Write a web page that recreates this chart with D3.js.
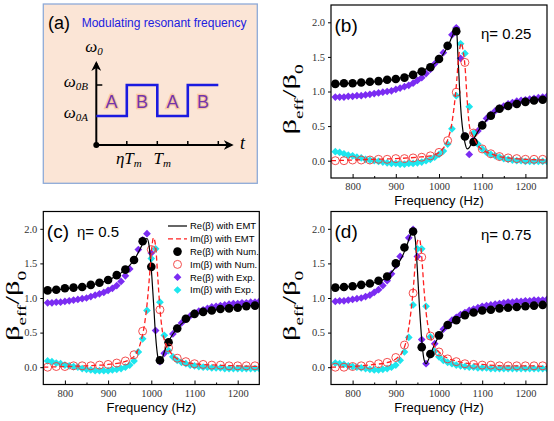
<!DOCTYPE html>
<meta charset="utf-8">
<style>
body { margin: 0; background: #fff; }
svg { display: block; }
.tick text { font-family: "Liberation Serif", serif; font-size: 10.5px; fill: #333; }
.tick line { stroke: #000; stroke-width: 1; }
</style>
<script src="https://d3js.org/d3.v7.min.js"></script>
<body>
<svg id="chart" width="554" height="421"></svg>
<script>

// ---- data ----
var freqNum = [760, 780, 800, 820, 840, 860, 880, 900, 920, 940, 960, 980, 1000,
  1020, 1040, 1060, 1080, 1100, 1120, 1140, 1160, 1180, 1200, 1220, 1240];
var freqExp = [760, 770, 780, 790, 800, 810, 820, 830, 840, 850, 860, 870, 880, 890,
  900, 910, 920, 930, 940, 950, 960, 970, 980, 990, 1000, 1010, 1020, 1030, 1040,
  1050, 1060, 1070, 1080, 1090, 1100, 1110, 1120, 1130, 1140, 1150, 1160, 1170,
  1180, 1190, 1200, 1210, 1220, 1230, 1240, 1250];
var xTicks = [800, 900, 1000, 1100, 1200];
var xMinor = [850, 950, 1050, 1150];
var yTicks = [0, 0.5, 1.0, 1.5, 2.0];

// (b) eta = 0.25
var emtFreqB = [750, 800, 850, 900, 950, 980, 1000, 1010, 1020, 1030, 1035, 1038, 1041,
  1044, 1048, 1052, 1056, 1060, 1065, 1070, 1075, 1080, 1090, 1100, 1120, 1140, 1160, 1200, 1250];
var emtReB = [1.10, 1.12, 1.14, 1.18, 1.27, 1.36, 1.46, 1.54, 1.65, 1.79, 1.86, 1.89, 1.86,
  1.50, 1.00, 0.62, 0.40, 0.26, 0.17, 0.19, 0.25, 0.31, 0.42, 0.51, 0.65, 0.74, 0.80, 0.86, 0.90];
var emtImB = [0.00, 0.01, 0.02, 0.03, 0.05, 0.07, 0.12, 0.18, 0.30, 0.55, 0.78, 0.95, 1.15,
  1.40, 1.62, 1.70, 1.58, 1.38, 0.90, 0.52, 0.40, 0.34, 0.22, 0.16, 0.10, 0.06, 0.04, 0.02, 0.01];
var numReB = [1.11, 1.12, 1.12, 1.13, 1.14, 1.15, 1.17, 1.18, 1.20, 1.24, 1.29, 1.35, 1.47,
  1.66, 1.87, 0.35, 0.27, 0.51, 0.65, 0.75, 0.79, 0.82, 0.85, 0.87, 0.88];
var numImB = [0.00, 0.00, 0.01, 0.01, 0.01, 0.02, 0.02, 0.03, 0.03, 0.04, 0.05, 0.07, 0.12,
  0.29, 0.99, 1.42, 0.40, 0.17, 0.10, 0.06, 0.04, 0.03, 0.02, 0.02, 0.02];
var expReB = [0.92, 0.92, 0.92, 0.93, 0.93, 0.94, 0.94, 0.95, 0.96, 0.97, 0.98, 0.99, 1.00, 1.01,
  1.03, 1.05, 1.07, 1.09, 1.12, 1.16, 1.20, 1.26, 1.32, 1.40, 1.48, 1.56, 1.66, 1.82, 1.92,
  1.48, 0.36, 0.09, 0.30, 0.43, 0.53, 0.61, 0.67, 0.72, 0.76, 0.79, 0.82, 0.84,
  0.86, 0.87, 0.88, 0.89, 0.90, 0.91, 0.92, 0.93];
var expImB = [0.13, 0.12, 0.10, 0.08, 0.07, 0.05, 0.04, 0.02, 0.01, 0.00, -0.01, -0.02, -0.03, -0.04,
  -0.04, -0.05, -0.05, -0.04, -0.04, -0.03, -0.02, 0.00, 0.02, 0.05, 0.09, 0.14, 0.24, 0.46, 0.94,
  1.69, 1.55, 0.78, 0.40, 0.24, 0.17, 0.12, 0.09, 0.07, 0.05, 0.03, 0.02, 0.01,
  0.00, 0.00, -0.01, -0.01, -0.01, -0.01, -0.01, -0.01];

// (c) eta = 0.5
var emtFreqC = [750, 800, 850, 900, 925, 950, 965, 975, 985, 990, 995, 1000, 1005, 1010,
  1015, 1020, 1025, 1030, 1040, 1050, 1060, 1080, 1100, 1150, 1200, 1250];
var emtReC = [1.10, 1.13, 1.17, 1.26, 1.34, 1.47, 1.60, 1.72, 1.84, 1.86, 1.75, 1.42, 0.95, 0.45,
  0.15, 0.06, 0.12, 0.22, 0.37, 0.48, 0.56, 0.68, 0.76, 0.83, 0.87, 0.90];
var emtImC = [0.00, 0.01, 0.02, 0.04, 0.06, 0.11, 0.20, 0.35, 0.65, 0.90, 1.25, 1.65, 1.87, 1.75,
  1.30, 0.85, 0.55, 0.40, 0.26, 0.17, 0.12, 0.07, 0.05, 0.03, 0.02, 0.01];
var numReC = [1.11, 1.12, 1.14, 1.15, 1.16, 1.19, 1.22, 1.26, 1.33, 1.41, 1.55, 1.82, 1.45,
  0.10, 0.36, 0.56, 0.70, 0.77, 0.80, 0.82, 0.84, 0.85, 0.86, 0.88, 0.89];
var numImC = [0.00, 0.01, 0.01, 0.02, 0.02, 0.02, 0.03, 0.04, 0.06, 0.09, 0.18, 0.52, 1.70,
  0.83, 0.28, 0.13, 0.08, 0.05, 0.04, 0.03, 0.03, 0.02, 0.02, 0.02, 0.02];
var expReC = [0.93, 0.93, 0.94, 0.94, 0.95, 0.96, 0.97, 0.98, 0.99, 1.00, 1.02, 1.04, 1.06, 1.08,
  1.11, 1.14, 1.18, 1.24, 1.32, 1.42, 1.55, 1.70, 1.84, 1.93, 1.65, 0.53, 0.08, 0.20, 0.36,
  0.48, 0.57, 0.64, 0.70, 0.74, 0.78, 0.81, 0.83, 0.85, 0.87, 0.88, 0.89, 0.90,
  0.91, 0.92, 0.92, 0.93, 0.93, 0.94, 0.94, 0.95];
var expImC = [0.09, 0.08, 0.06, 0.05, 0.03, 0.02, 0.01, 0.00, -0.02, -0.03, -0.04, -0.05, -0.05, -0.05,
  -0.05, -0.04, -0.03, -0.02, 0.00, 0.03, 0.09, 0.22, 0.41, 0.82, 1.57, 1.71, 0.94, 0.46, 0.24,
  0.15, 0.10, 0.07, 0.05, 0.03, 0.02, 0.01, 0.00, 0.00, -0.01, -0.01, -0.01, -0.02,
  -0.02, -0.02, -0.02, -0.02, -0.02, -0.02, -0.02, -0.02];

// (d) eta = 0.75
var emtFreqD = [750, 800, 850, 875, 900, 915, 925, 935, 940, 945, 950, 955, 960, 965, 970,
  975, 980, 990, 1000, 1020, 1040, 1060, 1100, 1150, 1200, 1250];
var emtReD = [1.14, 1.17, 1.22, 1.28, 1.45, 1.60, 1.75, 1.92, 1.97, 1.85, 1.40, 0.85, 0.40, 0.12, 0.05,
  0.10, 0.18, 0.33, 0.45, 0.60, 0.69, 0.75, 0.82, 0.86, 0.88, 0.91];
var emtImD = [0.00, 0.01, 0.04, 0.06, 0.12, 0.22, 0.40, 0.80, 1.10, 1.50, 1.82, 1.85, 1.60, 1.15, 0.80,
  0.58, 0.45, 0.30, 0.22, 0.13, 0.09, 0.06, 0.04, 0.02, 0.02, 0.01];
var numReD = [1.15, 1.16, 1.17, 1.19, 1.21, 1.25, 1.31, 1.50, 1.73, 1.96, 0.29, 0.19, 0.46,
  0.61, 0.68, 0.75, 0.79, 0.82, 0.83, 0.85, 0.86, 0.87, 0.88, 0.89, 0.90];
var numImD = [0.00, 0.00, 0.01, 0.02, 0.03, 0.05, 0.07, 0.14, 0.32, 1.07, 1.59, 0.45, 0.22,
  0.12, 0.08, 0.05, 0.04, 0.03, 0.03, 0.02, 0.02, 0.02, 0.02, 0.02, 0.02];
var expReD = [0.95, 0.96, 0.96, 0.97, 0.98, 0.99, 1.00, 1.02, 1.04, 1.08, 1.12, 1.18, 1.25, 1.35,
  1.47, 1.60, 1.73, 1.87, 1.99, 1.60, 0.40, 0.05, 0.18, 0.34, 0.46, 0.55, 0.62, 0.68, 0.72,
  0.76, 0.79, 0.82, 0.84, 0.86, 0.88, 0.89, 0.90, 0.91, 0.92, 0.93, 0.94, 0.94,
  0.95, 0.95, 0.96, 0.96, 0.97, 0.97, 0.97, 0.98];
var expImD = [0.06, 0.05, 0.04, 0.02, 0.01, 0.00, -0.01, -0.02, -0.03, -0.04, -0.04, -0.03, -0.02, 0.00,
  0.03, 0.10, 0.22, 0.43, 0.90, 1.71, 1.71, 0.88, 0.44, 0.23, 0.15, 0.10, 0.07, 0.05, 0.03,
  0.02, 0.01, 0.00, 0.00, -0.01, -0.01, -0.01, -0.02, -0.02, -0.02, -0.02, -0.02, -0.02,
  -0.02, -0.02, -0.02, -0.02, -0.02, -0.02, -0.02, -0.02];

var legendLabels = ["Re(\u03b2) with EMT", "Im(\u03b2) with EMT", "Re(\u03b2) with Num.",
  "Im(\u03b2) with Num.", "Re(\u03b2) with Exp.", "Im(\u03b2) with Exp."];

// schematic (a): switching times in units of Tm, and levels
var stepTimes = [0, 0.5, 1, 1.5, 2];
var stepLevels = ["A", "B", "A", "B"];

// ---- styles ----
var colBlack = "#000", colRed = "#f23a3a", colPurple = "#7b2cf2", colCyan = "#1ee6ee";
var svg = d3.select("#chart");
var W = 216, H = 173;

var panels = [
  {id: "b", eta: "0.25", x: 331, y: 5, ylOff: 41, etaX: 481, etaY: 39,
   emtF: emtFreqB, emtRe: emtReB, emtIm: emtImB, numRe: numReB, numIm: numImB, expRe: expReB, expIm: expImB},
  {id: "c", eta: "0.5", x: 43.3, y: 211.5, ylOff: 30, etaX: 77, etaY: 237, legend: true,
   emtF: emtFreqC, emtRe: emtReC, emtIm: emtImC, numRe: numReC, numIm: numImC, expRe: expReC, expIm: expImC},
  {id: "d", eta: "0.75", x: 331, y: 211.5, ylOff: 41, etaX: 481, etaY: 240,
   emtF: emtFreqD, emtRe: emtReD, emtIm: emtImD, numRe: numReD, numIm: numImD, expRe: expReD, expIm: expImD}
];

var diamond = d3.symbol().type(d3.symbolSquare).size(30)();

panels.forEach(function(p) {
  var x = d3.scaleLinear().domain([750, 1250]).range([0, W]);
  var y = d3.scaleLinear().domain([-0.25, 2.25]).range([H, 0]);
  var g = svg.append("g").attr("transform", "translate(" + p.x + "," + p.y + ")");

  g.append("clipPath").attr("id", "clip" + p.id)
    .append("rect").attr("width", W).attr("height", H);

  var plot = g.append("g").attr("clip-path", "url(#clip" + p.id + ")");

  // experimental diamonds
  plot.selectAll("path.expRe").data(freqExp).enter().append("path")
    .attr("d", diamond).attr("fill", colPurple)
    .attr("transform", function(f, i) { return "translate(" + x(f) + "," + y(p.expRe[i]) + ") rotate(45)"; });
  plot.selectAll("path.expIm").data(freqExp).enter().append("path")
    .attr("d", diamond).attr("fill", colCyan)
    .attr("transform", function(f, i) { return "translate(" + x(f) + "," + y(p.expIm[i]) + ") rotate(45)"; });

  // numerical circles
  plot.selectAll("circle.numRe").data(freqNum).enter().append("circle")
    .attr("cx", function(f) { return x(f); })
    .attr("cy", function(f, i) { return y(p.numRe[i]); })
    .attr("r", 4.3).attr("fill", colBlack);
  plot.selectAll("circle.numIm").data(freqNum).enter().append("circle")
    .attr("cx", function(f) { return x(f); })
    .attr("cy", function(f, i) { return y(p.numIm[i]); })
    .attr("r", 4).attr("fill", "none").attr("stroke", colRed).attr("stroke-width", 0.9);

  // EMT lines
  var line = function(vals) {
    return d3.line()
      .x(function(f) { return x(f); })
      .y(function(f, i) { return y(vals[i]); })
      .curve(d3.curveMonotoneX)(p.emtF);
  };
  plot.append("path").attr("d", line(p.emtRe)).attr("fill", "none")
    .attr("stroke", colBlack).attr("stroke-width", 1.2);
  plot.append("path").attr("d", line(p.emtIm)).attr("fill", "none")
    .attr("stroke", "#ff2020").attr("stroke-width", 1.3).attr("stroke-dasharray", "5,3");

  // axes
  var xa = g.append("g").attr("transform", "translate(0," + H + ")")
    .call(d3.axisBottom(x).tickValues(xTicks).tickSizeInner(-4).tickSizeOuter(0).tickPadding(5)
      .tickFormat(d3.format("d")));
  xa.select(".domain").remove();
  var xm = g.append("g").attr("transform", "translate(0," + H + ")")
    .call(d3.axisBottom(x).tickValues(xMinor).tickSizeInner(-2).tickSizeOuter(0).tickFormat(""));
  xm.select(".domain").remove();
  var ya = g.append("g")
    .call(d3.axisLeft(y).tickValues(yTicks).tickSizeInner(3).tickSizeOuter(0).tickPadding(3)
      .tickFormat(d3.format(".1f")));
  ya.select(".domain").remove();

  g.append("rect").attr("width", W).attr("height", H)
    .attr("fill", "none").attr("stroke", "#000").attr("stroke-width", 1.2);

  // axis titles
  g.append("text").attr("x", W / 2).attr("y", H + 27).attr("text-anchor", "middle")
    .style("font-family", "Liberation Sans, Arial, sans-serif").style("font-size", "13px")
    .text("Frequency (Hz)");
  var yl = g.append("text")
    .attr("transform", "translate(" + (-p.ylOff + 6) + "," + (H / 2 + 8) + ") rotate(-90)")
    .attr("text-anchor", "middle")
    .attr("textLength", 70).attr("lengthAdjust", "spacingAndGlyphs")
    .style("font-family", "Liberation Serif, serif").style("font-size", "19px");
  yl.append("tspan").text("\u03b2");
  yl.append("tspan").attr("baseline-shift", "sub").style("font-size", "12px").text("eff");
  yl.append("tspan").text("/\u03b2");
  yl.append("tspan").attr("baseline-shift", "sub").style("font-size", "12px").text("0");

  // panel tag and eta
  g.append("text").attr("x", 3.5).attr("y", 26.5)
    .style("font-family", "Liberation Sans, Arial, sans-serif").style("font-size", "19px")
    .text("(" + p.id + ")");
  svg.append("text").attr("x", p.etaX).attr("y", p.etaY)
    .style("font-family", "Liberation Sans, Arial, sans-serif").style("font-size", "15px")
    .text("\u03b7= " + p.eta);

  if (p.legend) {
    var lg = svg.append("g").attr("transform", "translate(168,226)");
    legendLabels.forEach(function(lab, i) {
      var row = lg.append("g").attr("transform", "translate(0," + (i * 12.8) + ")");
      if (i === 0) row.append("line").attr("x1", 0).attr("x2", 19).attr("stroke", colBlack).attr("stroke-width", 1.2);
      if (i === 1) row.append("line").attr("x1", 0).attr("x2", 19).attr("stroke", "#ff2020")
        .attr("stroke-width", 1.3).attr("stroke-dasharray", "5,3");
      if (i === 2) row.append("circle").attr("cx", 9.5).attr("r", 4.3).attr("fill", colBlack);
      if (i === 3) row.append("circle").attr("cx", 9.5).attr("r", 4).attr("fill", "none")
        .attr("stroke", colRed).attr("stroke-width", 0.9);
      if (i === 4) row.append("path").attr("d", diamond).attr("fill", colPurple).attr("transform", "translate(9.5,0) rotate(45)");
      if (i === 5) row.append("path").attr("d", diamond).attr("fill", colCyan).attr("transform", "translate(9.5,0) rotate(45)");
      row.append("text").attr("x", 22).attr("y", 3.4)
        .style("font-family", "Liberation Sans, Arial, sans-serif").style("font-size", "9.5px")
        .text(lab);
    });
  }
});

// ---- panel (a): schematic of the modulated resonance ----
var ga = svg.append("g");
ga.append("rect").attr("x", 43.3).attr("y", 4).attr("width", 214).attr("height", 179.3)
  .attr("fill", "#fbe5d6").attr("stroke", "#8eaad8").attr("stroke-width", 1.3);
ga.append("text").attr("x", 48).attr("y", 29)
  .style("font-family", "Liberation Sans, Arial, sans-serif").style("font-size", "18px").text("(a)");
ga.append("text").attr("x", 81.7).attr("y", 27.3).attr("fill", "#2020e0")
  .style("font-family", "Liberation Sans, Arial, sans-serif").style("font-size", "12px")
  .text("Modulating resonant frequency");

var tS = d3.scaleLinear().domain([0, 1]).range([96.3, 157.3]);
var wS = d3.scaleOrdinal().domain(["0", "A", "B"]).range([145, 116, 85]);

ga.append("defs").append("marker").attr("id", "arr").attr("viewBox", "0 0 10 10")
  .attr("refX", 8).attr("refY", 5).attr("markerWidth", 5).attr("markerHeight", 5)
  .attr("orient", "auto").append("path").attr("d", "M0,0 L10,5 L0,10 L3,5 Z").attr("fill", "#000");

ga.append("line").attr("x1", tS(0)).attr("y1", wS("0")).attr("x2", tS(0)).attr("y2", 63)
  .attr("stroke", "#000").attr("stroke-width", 2).attr("marker-end", "url(#arr)");
ga.append("line").attr("x1", tS(0)).attr("y1", wS("0")).attr("x2", tS(2.22)).attr("y2", wS("0"))
  .attr("stroke", "#000").attr("stroke-width", 2).attr("marker-end", "url(#arr)");
ga.append("circle").attr("cx", tS(0)).attr("cy", wS("0")).attr("r", 3).attr("fill", "#000");
ga.append("line").attr("x1", tS(0)).attr("x2", tS(0) + 6).attr("y1", wS("B")).attr("y2", wS("B"))
  .attr("stroke", "#000").attr("stroke-width", 1.5);
stepTimes.slice(1).forEach(function(t) {
  ga.append("line").attr("x1", tS(t)).attr("x2", tS(t)).attr("y1", wS("0")).attr("y2", wS("0") - 4)
    .attr("stroke", "#000").attr("stroke-width", 1.5);
});

var stepPts = [];
stepLevels.forEach(function(l, i) {
  stepPts.push([tS(stepTimes[i]), wS(l)]);
  stepPts.push([tS(stepTimes[i + 1]), wS(l)]);
});
ga.append("path").attr("d", d3.line()(stepPts)).attr("fill", "none")
  .attr("stroke", "#1a1ae0").attr("stroke-width", 2.6);

stepLevels.forEach(function(l, i) {
  ga.append("text").attr("x", tS((stepTimes[i] + stepTimes[i + 1]) / 2)).attr("y", 108)
    .attr("text-anchor", "middle").attr("fill", "#7436ab")
    .attr("stroke", "#f8c8a4").attr("stroke-width", 2.5).attr("paint-order", "stroke")
    .style("font-family", "Liberation Sans, Arial, sans-serif").style("font-size", "18px")
    .text(l);
});

function mathLabel(x, y, anchor, main, sub) {
  var t = ga.append("text").attr("x", x).attr("y", y).attr("text-anchor", anchor)
    .style("font-family", "Liberation Serif, serif").style("font-style", "italic").style("font-size", "17px");
  t.append("tspan").text(main);
  t.append("tspan").attr("dy", 3).style("font-size", "11px").text(sub);
}
mathLabel(94, 52, "middle", "\u03c9", "0");
mathLabel(88, 87, "end", "\u03c9", "0B");
mathLabel(88, 118, "end", "\u03c9", "0A");
mathLabel(tS(0.5) + 2, 164, "middle", "\u03b7T", "m");
mathLabel(tS(1) + 5, 164, "middle", "T", "m");
ga.append("text").attr("x", 240).attr("y", 149)
  .style("font-family", "Liberation Serif, serif").style("font-style", "italic").style("font-size", "18px").text("t");

</script>
</body>
